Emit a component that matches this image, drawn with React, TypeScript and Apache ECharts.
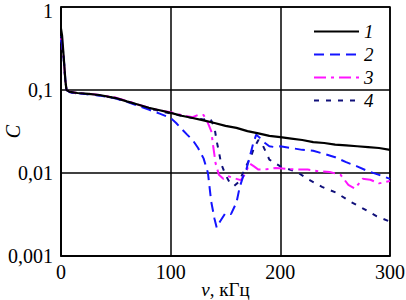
import React, { useEffect, useRef } from "react";
import * as echarts from "echarts";

const seriesNames = ["1", "2", "3", "4"];
const xTicks = [0, 100, 200, 300];

const f1 = [0, 1, 2, 3, 4, 5, 8, 15, 25, 35, 50, 60, 70, 80, 90, 100, 110, 120, 130, 140, 150, 160, 170, 180, 190, 200, 210, 220, 230, 240, 250, 260, 270, 280, 290, 300];
const c1 = [0.55, 0.45, 0.3, 0.2, 0.13, 0.1, 0.095, 0.092, 0.09, 0.087, 0.08, 0.073, 0.067, 0.061, 0.057, 0.053, 0.049, 0.046, 0.043, 0.04, 0.037, 0.035, 0.032, 0.03, 0.028, 0.027, 0.026, 0.025, 0.0235, 0.023, 0.022, 0.0215, 0.021, 0.0205, 0.02, 0.019];

const f2 = [0, 1, 2, 3, 4, 5, 8, 15, 25, 35, 50, 60, 70, 80, 90, 100, 105, 110, 115, 120, 125, 130, 134, 137, 140, 142, 145, 150, 155, 160, 163, 166, 169, 172, 175, 178, 182, 186, 190, 195, 200, 210, 220, 230, 240, 250, 260, 270, 280, 290, 300];
const c2 = [0.4, 0.35, 0.28, 0.2, 0.13, 0.1, 0.094, 0.091, 0.089, 0.086, 0.079, 0.072, 0.065, 0.058, 0.052, 0.046, 0.04, 0.034, 0.029, 0.025, 0.02, 0.015, 0.01, 0.0045, 0.0028, 0.0022, 0.0026, 0.0033, 0.0032, 0.0044, 0.0068, 0.009, 0.011, 0.0155, 0.022, 0.029, 0.026, 0.023, 0.021, 0.0205, 0.021, 0.02, 0.019, 0.0185, 0.017, 0.0155, 0.0135, 0.012, 0.0105, 0.0095, 0.0085];

const f3 = [0, 1, 2, 3, 4, 5, 8, 15, 25, 35, 50, 60, 70, 80, 90, 100, 110, 120, 125, 130, 134, 137, 139, 141, 144, 148, 152, 156, 160, 164, 168, 172, 176, 180, 185, 190, 196, 205, 215, 225, 235, 245, 255, 262, 268, 275, 282, 290, 296, 300];
const c3 = [0.42, 0.37, 0.28, 0.19, 0.13, 0.1, 0.095, 0.092, 0.09, 0.087, 0.081, 0.074, 0.067, 0.061, 0.057, 0.054, 0.05, 0.047, 0.05, 0.05, 0.04, 0.032, 0.02, 0.013, 0.0095, 0.0085, 0.0092, 0.0088, 0.0085, 0.0082, 0.0098, 0.013, 0.012, 0.011, 0.011, 0.0112, 0.0115, 0.0112, 0.011, 0.011, 0.0105, 0.0103, 0.0095, 0.0072, 0.0065, 0.0085, 0.0083, 0.0075, 0.0078, 0.008];

const f4 = [0, 1, 2, 3, 4, 5, 8, 15, 25, 35, 50, 60, 70, 80, 90, 100, 110, 120, 130, 136, 140, 142, 144, 146, 150, 154, 158, 162, 166, 170, 173, 176, 180, 184, 190, 200, 215, 226, 238, 251, 264, 276, 288, 300];
const c4 = [0.45, 0.38, 0.28, 0.19, 0.13, 0.1, 0.094, 0.091, 0.089, 0.086, 0.08, 0.073, 0.066, 0.06, 0.056, 0.052, 0.049, 0.046, 0.044, 0.046, 0.035, 0.024, 0.018, 0.013, 0.0095, 0.0076, 0.007, 0.0078, 0.01, 0.013, 0.0155, 0.02, 0.025, 0.0215, 0.0145, 0.012, 0.0103, 0.0083, 0.0068, 0.0058, 0.0045, 0.0037, 0.003, 0.0026];

const colors = ["#000000", "#1414ff", "#ff14ff", "#10107a"];
const dashes: any[] = ["solid", [10, 6], [12, 5, 3, 5], [5, 7]];
const FONT = "Liberation Serif, Times New Roman, serif";

const zip = (xs: number[], ys: number[]) => xs.map((x, i) => [x, ys[i]]);

export default function App() {
  const ref = useRef<HTMLDivElement>(null);
  useEffect(() => {
    if (!ref.current) return;
    const chart = echarts.init(ref.current, null, { renderer: "svg" });
    const all = [zip(f1, c1), zip(f2, c2), zip(f3, c3), zip(f4, c4)];
    chart.setOption({
      animation: false,
      backgroundColor: "#fff",
      textStyle: { fontFamily: FONT },
      grid: {
        left: 61, right: 16, top: 7, bottom: 44,
        outerBoundsMode: "none", containLabel: false,
        show: true, borderColor: "#000", borderWidth: 1.5,
      },
      legend: {
        data: seriesNames,
        orient: "vertical",
        left: 308,
        top: 17,
        itemWidth: 45,
        itemHeight: 14,
        itemGap: 4,
        itemTextGap: 7,
        itemStyle: { opacity: 0 },
        textStyle: { fontFamily: FONT, fontStyle: "italic", fontSize: 19, color: "#000" },
      },
      xAxis: {
        type: "value",
        min: xTicks[0],
        max: xTicks[xTicks.length - 1],
        interval: 100,
        name: "{i|ν}{n|, кГц}",
        nameLocation: "middle",
        nameGap: 24,
        nameMoveOverlap: false,
        nameTextStyle: {
          fontFamily: FONT,
          fontSize: 19,
          color: "#000",
          rich: {
            i: { fontFamily: FONT, fontStyle: "italic", fontSize: 19, color: "#000" },
            n: { fontFamily: FONT, fontSize: 19, color: "#000" },
          },
        },
        axisLine: { lineStyle: { color: "#000", width: 1.5 } },
        axisTick: { show: false },
        axisLabel: { fontFamily: FONT, fontSize: 20, color: "#000", margin: 6 },
        splitLine: { show: true, lineStyle: { color: "#000", width: 1.5 } },
      },
      yAxis: {
        type: "log",
        logBase: 10,
        min: 0.001,
        max: 1,
        name: "C",
        nameLocation: "middle",
        nameGap: 38,
        nameMoveOverlap: false,
        nameTextStyle: { fontFamily: FONT, fontStyle: "italic", fontSize: 20, color: "#000" },
        axisLine: { show: true, lineStyle: { color: "#000", width: 1.5 } },
        axisTick: { show: false },
        axisLabel: {
          fontFamily: FONT,
          fontSize: 20,
          color: "#000",
          margin: 8,
          formatter: (v: number) => {
            const s = String(Number(v.toPrecision(3))).replace(".", ",");
            return v >= 0.999 ? "{t|" + s + "}" : s;
          },
          rich: {
            t: { fontFamily: FONT, fontSize: 20, color: "#000", lineHeight: 12, padding: [7, 0, 0, 0] },
          },
        },
        splitLine: { show: true, lineStyle: { color: "#000", width: 1.5 } },
      },
      series: all.map((d, i) => ({
        name: seriesNames[i],
        type: "line",
        data: d,
        symbol: "none",
        lineStyle: { color: colors[i], width: i === 0 ? 2.2 : 2, type: dashes[i] },
        itemStyle: { color: colors[i] },
        z: 10 - i,
      })),
    });
    return () => chart.dispose();
  }, []);
  return <div ref={ref} style={{ width: 406, height: 300, position: "absolute", left: 0, top: 0 }} />;
}
